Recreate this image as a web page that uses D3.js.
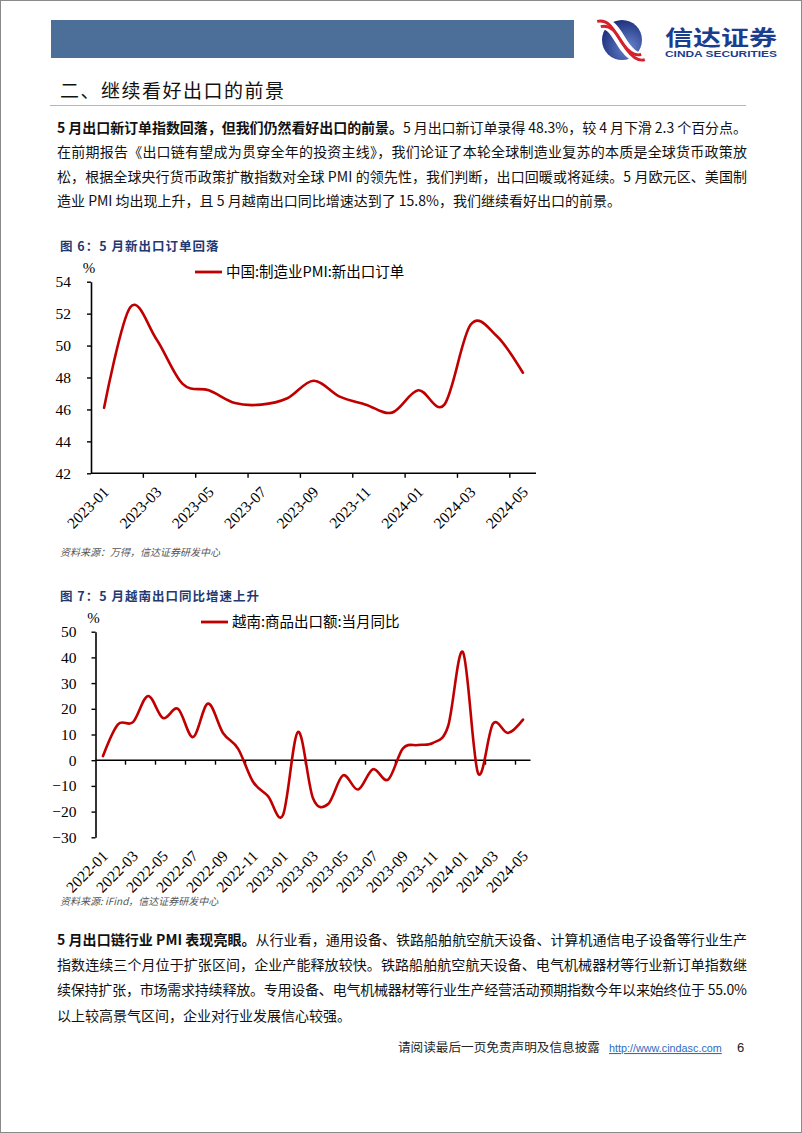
<!DOCTYPE html>
<html><head><meta charset="utf-8">
<script src="https://cdn.jsdelivr.net/npm/d3@7"></script>
<style>
html,body{margin:0;padding:0;background:#fff;}
svg{display:block;}
</style></head>
<body>
<svg id="page" width="802" height="1133"></svg>
<script>
// ---------- data ----------
const months1 = ["2023-01","2023-02","2023-03","2023-04","2023-05","2023-06","2023-07","2023-08","2023-09","2023-10","2023-11","2023-12","2024-01","2024-02","2024-03","2024-04","2024-05"];
const pmiNewExportOrders = [46.1,52.4,50.4,47.6,47.2,46.4,46.3,46.7,47.8,46.8,46.3,45.8,47.2,46.3,51.3,50.6,48.3];
const yTicks1 = [42,44,46,48,50,52,54];

const months2 = ["2022-01","2022-02","2022-03","2022-04","2022-05","2022-06","2022-07","2022-08","2022-09","2022-10","2022-11","2022-12","2023-01","2023-02","2023-03","2023-04","2023-05","2023-06","2023-07","2023-08","2023-09","2023-10","2023-11","2023-12","2024-01","2024-02","2024-03","2024-04","2024-05"];
const vnExportYoY = [1.6,13.9,14.8,25.0,16.4,20.0,9.0,22.0,10.6,4.5,-8.4,-14.0,-21.3,11.0,-14.8,-17.1,-5.9,-11.4,-3.5,-7.6,4.6,5.9,6.7,13.1,42.0,-5.0,14.2,10.6,15.8];
const yTicks2 = [-30,-20,-10,0,10,20,30,40,50];

const para1 = [
  [{b:true,t:"5 月出口新订单指数回落，但我们仍然看好出口的前景。"},{b:false,t:"5 月出口新订单录得 48.3%，较 4 月下滑 2.3 个百分点。"}],
  [{b:false,t:"在前期报告《出口链有望成为贯穿全年的投资主线》，我们论证了本轮全球制造业复苏的本质是全球货币政策放"}],
  [{b:false,t:"松，根据全球央行货币政策扩散指数对全球 PMI 的领先性，我们判断，出口回暖或将延续。5 月欧元区、美国制"}],
  [{b:false,t:"造业 PMI 均出现上升，且 5 月越南出口同比增速达到了 15.8%，我们继续看好出口的前景。"}]
];
const para2 = [
  [{b:true,t:"5 月出口链行业 PMI 表现亮眼。"},{b:false,t:"从行业看，通用设备、铁路船舶航空航天设备、计算机通信电子设备等行业生产"}],
  [{b:false,t:"指数连续三个月位于扩张区间，企业产能释放较快。铁路船舶航空航天设备、电气机械器材等行业新订单指数继"}],
  [{b:false,t:"续保持扩张，市场需求持续释放。专用设备、电气机械器材等行业生产经营活动预期指数今年以来始终位于 55.0%"}],
  [{b:false,t:"以上较高景气区间，企业对行业发展信心较强。"}]
];

// ---------- page ----------
const svg = d3.select("#page");
const CJK = "'Noto Sans CJK SC','Noto Sans',sans-serif";
const SERIF = "'Liberation Serif','DejaVu Serif',serif";
const RED = "#C00000";
const NAVY = "#1F3A73";

svg.append("rect").attr("x",0.5).attr("y",0.5).attr("width",801).attr("height",1132)
  .attr("fill","none").attr("stroke","#8a8a8a").attr("stroke-width",1);

// header band
svg.append("rect").attr("x",51).attr("y",20).attr("width",523).attr("height",38).attr("fill","#4B6F99");

// logo emblem
const defs = svg.append("defs");
const rg = defs.append("radialGradient").attr("id","lg").attr("cx","65%").attr("cy","70%").attr("r","75%");
rg.append("stop").attr("offset","0%").attr("stop-color","#6A86D0");
rg.append("stop").attr("offset","100%").attr("stop-color","#1A2C7A");
const lg = svg.append("g").attr("transform","translate(622,40)");
lg.append("circle").attr("r",20).attr("fill","url(#lg)");
const ribbon = "M-23,-16 C-10,-19 -5,-4 3,7 C9,15 15,19 21,17";
lg.append("path").attr("d",ribbon).attr("fill","none").attr("stroke","#fff").attr("stroke-width",11).attr("stroke-linecap","butt");
lg.append("path").attr("d",ribbon).attr("transform","translate(-1.8,-2.6)").attr("fill","none").attr("stroke","#D3222B").attr("stroke-width",2.8);
lg.append("path").attr("d",ribbon).attr("transform","translate(1.8,2.6)").attr("fill","none").attr("stroke","#D3222B").attr("stroke-width",2.8);

svg.append("text").attr("x",665).attr("y",45).attr("font-family",CJK).attr("font-weight",700)
  .attr("font-size",21).attr("fill","#1B3D8F").attr("textLength",112).attr("lengthAdjust","spacingAndGlyphs").text("信达证券");
svg.append("text").attr("x",665).attr("y",57).attr("font-family","'Liberation Sans',Arial,sans-serif").attr("font-weight",700)
  .attr("font-size",9).attr("fill","#1B3D8F").attr("textLength",112).attr("lengthAdjust","spacingAndGlyphs").text("CINDA SECURITIES");

// section title
svg.append("text").attr("x",60).attr("y",98).attr("font-family",CJK).attr("font-weight",400)
  .attr("font-size",19).attr("fill","#111").attr("letter-spacing",1.5).text("二、继续看好出口的前景");
svg.append("line").attr("x1",50).attr("x2",746).attr("y1",105.5).attr("y2",105.5).attr("stroke","#A9B8CC").attr("stroke-width",1.2);

function paragraph(lines, x, y0, lh, fullWidth){
  lines.forEach((segs,i)=>{
    const t = svg.append("text").attr("x",x).attr("y",y0+i*lh).attr("font-family",CJK)
      .attr("font-size",14).attr("fill","#111");
    segs.forEach(s=>t.append("tspan").attr("font-weight",s.b?700:400).text(s.t));
    if(i<lines.length-1){ t.attr("textLength",fullWidth).attr("lengthAdjust","spacing"); }
  });
}
paragraph(para1, 57, 133, 24.3, 690);
paragraph(para2, 57, 945, 25.2, 690);

// ---------- chart helper ----------
function lineChart(o){
  const g = svg.append("g");
  g.append("text").attr("x",60).attr("y",o.capY).attr("font-family",CJK).attr("font-weight",700)
    .attr("font-size",12.5).attr("fill",NAVY).attr("letter-spacing",1).text(o.caption);
  const x = d3.scaleBand().domain(o.cats).range([o.x0,o.x1]).paddingInner(0).paddingOuter(0);
  const y = d3.scaleLinear().domain([o.yTicks[0],o.yTicks[o.yTicks.length-1]]).range([o.yB,o.yT]);
  const cx = d=>x(d)+x.bandwidth()/2;
  const ya = g.append("g").attr("transform",`translate(${o.x0},0)`)
    .call(d3.axisLeft(y).tickValues(o.yTicks).tickSize(4).tickSizeOuter(0).tickPadding(o.yPad));
  ya.select(".domain").attr("stroke","#000").attr("stroke-width",1.6);
  ya.selectAll(".tick line").attr("stroke","#000").attr("stroke-width",1.4);
  ya.selectAll("text").attr("font-family",SERIF).attr("font-size",15.5).attr("fill","#000");
  const axY = y(o.xAxisAt);
  g.append("line").attr("x1",o.x0).attr("x2",o.x1).attr("y1",axY).attr("y2",axY).attr("stroke","#000").attr("stroke-width",1.6);
  const tickIdx = d3.range(0,o.cats.length,2).filter(i=>i>0);
  g.selectAll(".xt").data(tickIdx).enter().append("line")
    .attr("x1",i=>x(o.cats[i])).attr("x2",i=>x(o.cats[i]))
    .attr("y1",axY).attr("y2",axY+4.5).attr("stroke","#000").attr("stroke-width",1.4);
  const labCats = o.cats.filter((d,i)=>i%2===0);
  g.selectAll(".xl").data(labCats).enter().append("text")
    .attr("transform",d=>`translate(${cx(d)+6},${o.labY}) rotate(-45)`)
    .attr("text-anchor","end").attr("font-family",SERIF).attr("font-size",15.5).attr("fill","#000").text(d=>d);
  g.append("text").attr("x",o.x0-2).attr("y",o.yT-9).attr("text-anchor","middle").attr("font-family",SERIF)
    .attr("font-size",15).attr("fill","#000").text("%");
  g.append("line").attr("x1",o.legX).attr("x2",o.legX+27).attr("y1",o.legY).attr("y2",o.legY).attr("stroke",RED).attr("stroke-width",2.8);
  g.append("text").attr("x",o.legX+31).attr("y",o.legY+5).attr("font-family",CJK).attr("font-size",14.5)
    .attr("fill","#000").text(o.legend);
  const line = d3.line().x((d,i)=>cx(o.cats[i])).y(d=>y(d)).curve(d3.curveCardinal.tension(0));
  g.append("path").datum(o.values).attr("d",line).attr("fill","none").attr("stroke",RED).attr("stroke-width",2.6)
    .attr("stroke-linejoin","round").attr("stroke-linecap","round");
  g.append("text").attr("x",60).attr("y",o.srcY).attr("font-family",CJK).attr("font-style","italic")
    .attr("font-size",10).attr("fill","#555").text(o.source);
}

lineChart({
  caption:"图 6：5 月新出口订单回落", capY:251,
  cats:months1, values:pmiNewExportOrders, yTicks:yTicks1,
  x0:91, x1:536, yT:281.7, yB:473.3, xAxisAt:42, yPad:16, labY:493,
  legX:195, legY:272, legend:"中国:制造业PMI:新出口订单",
  srcY:556, source:"资料来源：万得，信达证券研发中心"
});

lineChart({
  caption:"图 7：5 月越南出口同比增速上升", capY:601,
  cats:months2, values:vnExportYoY, yTicks:yTicks2,
  x0:95.5, x1:530.5, yT:631.7, yB:837.3, xAxisAt:0, yPad:15, labY:857,
  legX:201, legY:622, legend:"越南:商品出口额:当月同比",
  srcY:905, source:"资料来源: iFind，信达证券研发中心"
});

// footer
svg.append("text").attr("x",398).attr("y",1052).attr("font-family",CJK).attr("font-size",12).attr("fill","#222")
  .attr("textLength",202).attr("lengthAdjust","spacingAndGlyphs").text("请阅读最后一页免责声明及信息披露");
svg.append("text").attr("x",609).attr("y",1052).attr("font-family","'Liberation Sans',Arial,sans-serif").attr("font-size",10.8)
  .attr("fill","#2F6BC0").attr("text-decoration","underline").text("http://www.cindasc.com");
svg.append("text").attr("x",737).attr("y",1052).attr("font-family","'Liberation Sans',Arial,sans-serif").attr("font-size",13)
  .attr("fill","#222").text("6");
</script>
</body></html>
